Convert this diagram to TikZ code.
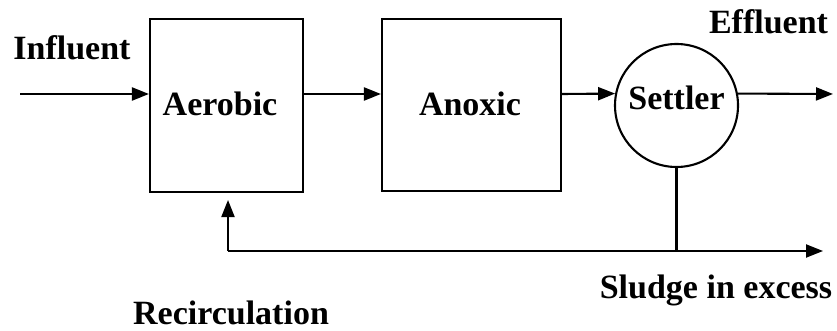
\documentclass[tikz,border=0pt]{standalone}
\usepackage{fontspec}
\setmainfont{Liberation Serif}
\usetikzlibrary{arrows.meta}
\begin{document}
\begin{tikzpicture}[x=1pt,y=-1pt,
  line width=2.1pt,
  every node/.style={font=\fontsize{34}{38}\selectfont\bfseries},
  unit/.style={draw, rectangle, inner sep=0pt},
  flow/.style={-{Triangle[length=17pt,width=13pt]}},
  lbl/.style={inner sep=0pt}]
  \useasboundingbox (0,0) rectangle (837,331);

  % process units
  \node[unit, minimum width=153pt, minimum height=173pt] (aer) at (226.5,105.5) {};
  \node[lbl] (aert) at (220,104) {Aerobic};
  \node[unit, minimum width=179pt, minimum height=172pt] (ano) at (471.5,105) {};
  \node[lbl] (anot) at (470,104) {Anoxic};
  \node[draw, circle, minimum size=123pt, inner sep=0pt,
        label={[lbl, yshift=8pt]center:Settler}] (set) at (676.5,105.5) {};

  % stream labels
  \node[lbl] (inf) at (72,48) {Influent};
  \node[lbl] (eff) at (768.5,22) {Effluent};
  \node[lbl] (slu) at (716,290) {Sludge in excess};
  \node[lbl] (rec) at (231,313) {Recirculation};

  % free ends of the streams
  \coordinate (in) at (20,94);
  \coordinate (out) at (833,94);
  \coordinate (r) at (228,251);
  \coordinate (rtop) at (228,200);
  \coordinate (waste) at (823,251);

  % main line
  \draw[flow] (in) -- (aer.west |- in);
  \draw[flow] (aer.east |- in) -- (ano.west |- in);
  \draw[flow] (ano.east |- in) -- (set.169);
  \draw[flow] (set.11) -- (out);

  % sludge line and recirculation
  \draw (set.south) -- (set.south |- r);
  \draw[flow] (r) -- (waste);
  \draw[flow] (r) -- (rtop);
\end{tikzpicture}
\end{document}
